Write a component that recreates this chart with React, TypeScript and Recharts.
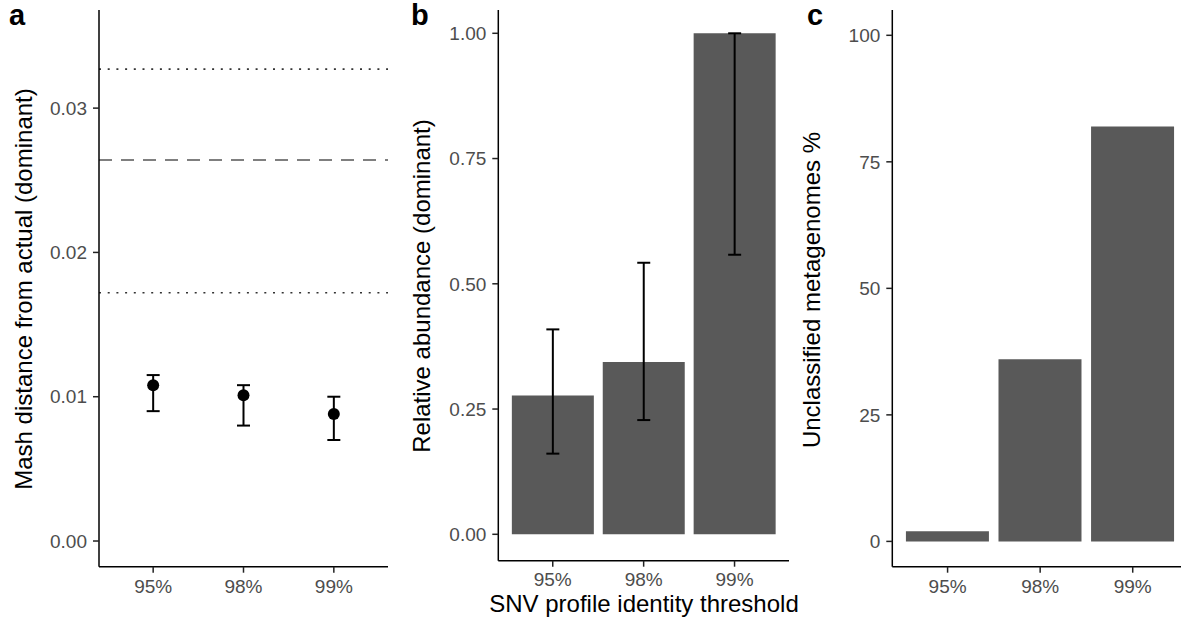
import React from "react";
import {
  ComposedChart,
  Bar,
  Line,
  XAxis,
  YAxis,
  ErrorBar,
  ReferenceLine,
} from "recharts";

const thresholds = ["95%", "98%", "99%"];

// a: mash distance from actual (dominant), mean with error range
const mashMean = [0.0108, 0.0101, 0.0088];
const mashLow = [0.009, 0.008, 0.007];
const mashHigh = [0.0115, 0.0108, 0.01];
const mashDotted = [0.0327, 0.0172];
const mashDashed = 0.0264;
const mashTicks = [0, 0.01, 0.02, 0.03];

// b: relative abundance (dominant)
const abundMean = [0.277, 0.344, 1.0];
const abundLow = [0.161, 0.228, 0.558];
const abundHigh = [0.409, 0.542, 1.0];
const abundTicks = [0, 0.25, 0.5, 0.75, 1];

// c: unclassified metagenomes %
const unclassified = [2, 36, 82];
const unclassTicks = [0, 25, 50, 75, 100];

const mashData = thresholds.map((t, i) => ({
  t,
  mean: mashMean[i],
  err: [mashMean[i] - mashLow[i], mashHigh[i] - mashMean[i]],
}));
const abundData = thresholds.map((t, i) => ({
  t,
  mean: abundMean[i],
  err: [abundMean[i] - abundLow[i], abundHigh[i] - abundMean[i]],
}));
const unclassData = thresholds.map((t, i) => ({ t, pct: unclassified[i] }));

const FONT = "'Liberation Sans', Arial, Helvetica, sans-serif";
const tickStyle = { fill: "#4d4d4d", fontSize: 19, fontFamily: FONT };
const axisLine = { stroke: "#000", strokeWidth: 1.5 };
const tickLine = { stroke: "#222", strokeWidth: 1.5 };
const BAR_FILL = "#595959";

const yTitle = (text: string, cx: number, cy: number) => (
  <div
    style={{
      position: "absolute",
      left: cx,
      top: cy,
      transform: "translate(-50%, -50%) rotate(-90deg)",
      whiteSpace: "nowrap",
      fontSize: 24,
      lineHeight: 1,
      color: "#000",
    }}>
    {text}
  </div>
);

const panelLetter = (text: string, x: number) => (
  <div
    style={{
      position: "absolute",
      left: x,
      top: 1,
      fontSize: 29,
      fontWeight: "bold",
      lineHeight: 1,
      color: "#000",
    }}>
    {text}
  </div>
);

export default function App() {
  return (
    <div
      style={{
        position: "absolute",
        left: 0,
        top: 0,
        width: 1181,
        height: 624,
        overflow: "hidden",
        background: "#fff",
        fontFamily: FONT,
      }}>
      {/* panel a */}
      <div style={{ position: "absolute", left: 0, top: 0 }}>
        <ComposedChart
          width={392}
          height={624}
          data={mashData}
          margin={{ top: 10, right: 4, left: 0, bottom: 17.3 }}>
          <XAxis
            dataKey="t"
            scale="band"
            height={40}
            padding={{ left: 9, right: 9 }}
            tick={tickStyle}
            tickSize={6}
            tickMargin={7}
            axisLine={axisLine}
            tickLine={tickLine}
          />
          <YAxis
            type="number"
            width={99}
            domain={[-0.00178, 0.0368]}
            ticks={mashTicks}
            allowDataOverflow
            tickFormatter={(v: number) => v.toFixed(2)}
            tick={tickStyle}
            tickSize={6}
            tickMargin={6}
            axisLine={axisLine}
            tickLine={tickLine}
          />
          {mashDotted.map((v) => (
            <ReferenceLine
              key={v}
              y={v}
              stroke="#333"
              strokeWidth={1.6}
              strokeDasharray="2 6.7"
            />
          ))}
          <ReferenceLine
            y={mashDashed}
            stroke="#555"
            strokeWidth={1.6}
            strokeDasharray="13 9"
          />
          <Line
            dataKey="mean"
            stroke="none"
            dot={{ r: 6, fill: "#000", stroke: "none" }}
            activeDot={false}
            isAnimationActive={false}>
            <ErrorBar
              dataKey="err"
              direction="y"
              width={6.5}
              stroke="#000"
              strokeWidth={2}
              isAnimationActive={false}
            />
          </Line>
        </ComposedChart>
      </div>

      {/* panel b */}
      <div style={{ position: "absolute", left: 400, top: 0 }}>
        <ComposedChart
          width={390}
          height={624}
          data={abundData}
          barCategoryGap="5%"
          margin={{ top: 10, right: 1, left: 0, bottom: 23.3 }}>
          <XAxis
            dataKey="t"
            height={40}
            padding={{ left: 9, right: 9 }}
            tick={tickStyle}
            tickSize={6}
            tickMargin={6}
            axisLine={axisLine}
            tickLine={tickLine}
          />
          <YAxis
            type="number"
            width={98.3}
            domain={[-0.0527, 1.0465]}
            ticks={abundTicks}
            allowDataOverflow
            tickFormatter={(v: number) => v.toFixed(2)}
            tick={tickStyle}
            tickSize={6}
            tickMargin={6}
            axisLine={axisLine}
            tickLine={tickLine}
          />
          <Bar dataKey="mean" fill={BAR_FILL} isAnimationActive={false}>
            <ErrorBar
              dataKey="err"
              direction="y"
              width={6.5}
              stroke="#000"
              strokeWidth={2}
              isAnimationActive={false}
            />
          </Bar>
        </ComposedChart>
      </div>

      {/* panel c */}
      <div style={{ position: "absolute", left: 800, top: 0 }}>
        <ComposedChart
          width={389}
          height={624}
          data={unclassData}
          barCategoryGap="5%"
          margin={{ top: 10, right: 1, left: 0, bottom: 17.3 }}>
          <XAxis
            dataKey="t"
            height={40}
            padding={{ left: 9, right: 9 }}
            tick={tickStyle}
            tickSize={6}
            tickMargin={7}
            axisLine={axisLine}
            tickLine={tickLine}
          />
          <YAxis
            type="number"
            width={92.3}
            domain={[-5, 105]}
            ticks={unclassTicks}
            allowDataOverflow
            tick={tickStyle}
            tickSize={6}
            tickMargin={6}
            axisLine={axisLine}
            tickLine={tickLine}
          />
          <Bar dataKey="pct" fill={BAR_FILL} isAnimationActive={false} />
        </ComposedChart>
      </div>

      {panelLetter("a", 9)}
      {panelLetter("b", 411)}
      {panelLetter("c", 807)}

      {yTitle("Mash distance from actual (dominant)", 24, 289)}
      {yTitle("Relative abundance (dominant)", 422, 286)}
      {yTitle("Unclassified metagenomes %", 812, 290)}

      <div
        style={{
          position: "absolute",
          left: 644,
          top: 604,
          transform: "translate(-50%, -50%)",
          whiteSpace: "nowrap",
          fontSize: 24,
          lineHeight: 1,
          color: "#000",
        }}>
        SNV profile identity threshold
      </div>
    </div>
  );
}
